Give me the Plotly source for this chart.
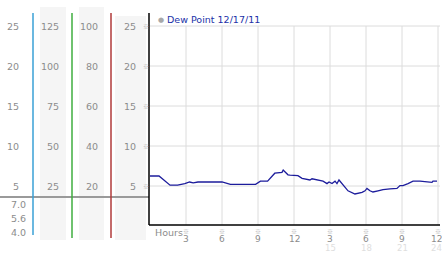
import plotly.graph_objects as go

W, H = 442, 253

# ---- data ----
hours = [0.0, 0.75, 1.67, 2.3, 2.9, 3.3, 3.6, 4.0, 6.0, 6.7, 8.8, 9.2, 9.8, 10.4, 11.0, 11.1,
         11.5, 11.67, 12.33, 12.67, 13.33, 13.5, 14.42, 14.75, 14.92, 15.17, 15.42, 15.58,
         15.75, 16.0, 16.5, 17.08, 17.67, 17.92, 18.08, 18.33, 18.58, 19.0, 19.42, 20.0,
         20.58, 20.83, 21.08, 21.5, 21.92, 22.5, 23.17, 23.5, 23.58, 23.92]
dewpoint = [6.25, 6.25, 5.1, 5.1, 5.3, 5.5, 5.4, 5.5, 5.5, 5.2, 5.2, 5.6, 5.6, 6.6, 6.7, 7.0,
            6.4, 6.35, 6.3, 5.95, 5.75, 5.9, 5.6, 5.3, 5.5, 5.3, 5.6, 5.3,
            5.75, 5.25, 4.4, 4.0, 4.2, 4.4, 4.7, 4.4, 4.25, 4.4, 4.55, 4.65,
            4.7, 5.05, 5.05, 5.3, 5.6, 5.6, 5.5, 5.45, 5.6, 5.6]

y_ticks = [25, 20, 15, 10, 5]
col1_labels = ["25", "20", "15", "10", "5"]
col2_labels = ["125", "100", "75", "50", "25"]
col3_labels = ["100", "80", "60", "40", "20"]
col4_labels = ["25", "20", "15", "10", "5"]
extra_labels = ["7.0", "5.6", "4.0"]
x_ticks = [3, 6, 9, 12, 15, 18, 21, 24]
x_tick_labels = ["3", "6", "9", "12", "3", "6", "9", "12"]
x_alt_ticks = [15, 18, 21, 24]
x_alt_labels = ["15", "18", "21", "24"]
title_text = "Dew Point 12/17/11"

# ---- helpers (pixel -> paper) ----
def px(x):
    return x / W

def py(y):
    return 1 - y / H

GRAY = "#8c8c8c"
FONT = "DejaVu Sans"
FS = 9.5

fig = go.Figure()
fig.add_trace(go.Scatter(x=hours, y=dewpoint, mode="lines",
                         line=dict(color="#1c1c9c", width=1.3),
                         hoverinfo="skip", showlegend=False))

shapes = []
annotations = []

# left panel backgrounds
for x0, x1, y0, y1 in [(40, 66, 7, 240), (79, 104, 7, 240), (115, 146, 16, 240)]:
    shapes.append(dict(type="rect", xref="paper", yref="paper", x0=px(x0), x1=px(x1),
                       y0=py(y1), y1=py(y0), fillcolor="#f5f5f5", line=dict(width=0),
                       layer="below"))

# gridlines
for t in y_ticks:
    shapes.append(dict(type="line", xref="paper", yref="y", x0=px(150), x1=px(440),
                       y0=t, y1=t, line=dict(color="#dcdcdc", width=1), layer="below"))
for t in x_ticks:
    shapes.append(dict(type="line", xref="x", yref="y", x0=t, x1=t, y0=0.125, y1=25,
                       line=dict(color="#dcdcdc", width=1), layer="below"))

# gray horizontal separator in left panel
shapes.append(dict(type="line", xref="paper", yref="paper", x0=0, x1=px(149),
                   y0=py(197), y1=py(197), line=dict(color="#9a9a9a", width=2)))

# coloured vertical lines
for x, c, y1 in [(33, "#3aa0d6", 235), (72, "#3fae3f", 238), (111, "#b03a3a", 238)]:
    shapes.append(dict(type="line", xref="paper", yref="paper", x0=px(x), x1=px(x),
                       y0=py(y1), y1=py(13), line=dict(color=c, width=1.5)))

# black axes
shapes.append(dict(type="line", xref="paper", yref="paper", x0=px(149), x1=px(149),
                   y0=py(225), y1=py(13), line=dict(color="black", width=1.5)))
shapes.append(dict(type="line", xref="paper", yref="paper", x0=px(149), x1=px(440),
                   y0=py(225), y1=py(225), line=dict(color="black", width=1.5)))

def txt(x, y, s, xanchor="right", yref="paper", color=GRAY, size=FS):
    annotations.append(dict(x=x, y=y, xref="paper", yref=yref, text=s, showarrow=False,
                            xanchor=xanchor, yanchor="middle",
                            font=dict(family=FONT, size=size, color=color)))

MARK = dict(family="Noto Sans CJK SC", size=6, color="#b0b0b0")

for t, a, b, c, d in zip(y_ticks, col1_labels, col2_labels, col3_labels, col4_labels):
    txt(px(21), t, a, yref="y")
    txt(px(61), t, b, yref="y")
    txt(px(100), t, c, yref="y")
    txt(px(138), t, d, yref="y")
    annotations.append(dict(x=px(145.5), y=t, xref="paper", yref="y", text="※",
                            showarrow=False, xanchor="center", yanchor="middle",
                            font=MARK))

for yy, s in zip([204, 218, 232], extra_labels):
    txt(px(28), py(yy), s)

# x tick labels
for i, (t, s) in enumerate(zip(x_ticks, x_tick_labels)):
    shift = -2 if i == len(x_ticks) - 1 else 0
    annotations.append(dict(x=t, y=py(231), xref="x", yref="paper", text="※",
                            showarrow=False, xanchor="center", yanchor="middle",
                            font=MARK))
    annotations.append(dict(x=t, y=py(238.5), xref="x", yref="paper", text=s,
                            showarrow=False, xanchor="center", yanchor="middle",
                            xshift=shift, borderpad=0,
                            font=dict(family=FONT, size=9, color=GRAY)))
for i, (t, s) in enumerate(zip(x_alt_ticks, x_alt_labels)):
    shift = -2 if i == len(x_alt_ticks) - 1 else 0
    annotations.append(dict(x=t, y=py(247.5), xref="x", yref="paper", text=s,
                            showarrow=False, xanchor="center", yanchor="middle",
                            xshift=shift, borderpad=0,
                            font=dict(family=FONT, size=8.5, color="#dedede")))

txt(px(153), py(232), "Hours", xanchor="left")

# title with gray circle
annotations.append(dict(x=px(161), y=py(20), xref="paper", yref="paper", text="●",
                        showarrow=False, xanchor="center", yanchor="middle",
                        font=dict(family="DejaVu Sans", size=7, color="#a8a8a8")))
txt(px(165), py(20), title_text, xanchor="left", color="#2231a8")

fig.update_layout(
    width=W, height=H,
    margin=dict(l=0, r=0, t=0, b=0),
    paper_bgcolor="white", plot_bgcolor="white",
    xaxis=dict(domain=[px(149), px(440)], range=[-1 / 12, -1 / 12 + 291 / 12],
               showgrid=False, zeroline=False, showticklabels=False, ticks="",
               fixedrange=True),
    yaxis=dict(domain=[py(225), py(13)], range=[0.125, 0.125 + 212 / 8],
               showgrid=False, zeroline=False, showticklabels=False, ticks="",
               fixedrange=True),
    shapes=shapes, annotations=annotations, showlegend=False,
)

fig.write_html("out.html", config={"displayModeBar": False})
